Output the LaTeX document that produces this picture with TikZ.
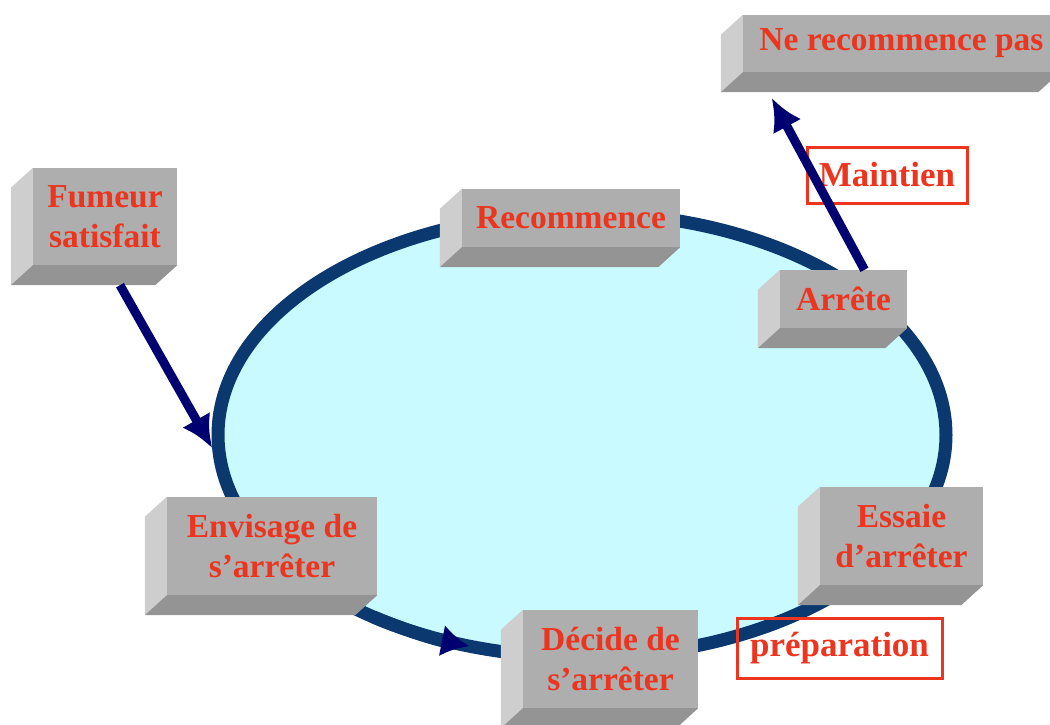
\documentclass[tikz,border=0pt]{standalone}
\usepackage{fontspec}
\setmainfont{Liberation Serif}
\usetikzlibrary{shapes.geometric,arrows.meta}

\definecolor{rouge}{RGB}{236,52,30}
\definecolor{face}{RGB}{174,174,174}
\definecolor{cote}{RGB}{206,206,206}
\definecolor{dessous}{RGB}{148,148,148}
\definecolor{anneau}{RGB}{12,56,112}
\definecolor{fond}{RGB}{200,250,255}
\definecolor{fleche}{RGB}{0,0,112}

\tikzset{
  bloc/.style={fill=face, text=rouge, align=center, inner sep=0pt,
    font=\bfseries\fontsize{33.5}{40}\selectfont},
  etiquette/.style={draw=rouge, line width=3pt, text=rouge, inner sep=0pt,
    font=\bfseries\fontsize{35}{40}\selectfont},
  fl/.style={draw=fleche, line width=9pt, -{Latex[length=32pt,width=32pt]}},
}

\begin{document}
\begin{tikzpicture}[x=1pt, y=-1pt]
    \useasboundingbox (0,0) rectangle (1050,724);
    % le cycle
    \node[ellipse, draw=anneau, fill=fond, line width=13pt, inner sep=0pt,
          minimum width=728pt, minimum height=444pt] (boucle) at (582,435) {};
    \draw[anneau, line width=13pt, -{Latex[length=28pt,width=32pt,color=fleche]}]
      (boucle.center) ++(125:364 and 222)
      arc[start angle=125, end angle=108, x radius=364, y radius=222];
    % les etapes
    \node[bloc, minimum width=144pt, minimum height=97pt] (fumeur) at (105,216.5) {Fumeur\\satisfait};
    \node[bloc, minimum width=218pt, minimum height=58pt] (recommence) at (571,218) {Recommence};
    \node[bloc, minimum width=317pt, minimum height=57pt] (nerecommence) at (901.5,43.5) {Ne recommence pas};
    \node[bloc, minimum width=127pt, minimum height=58pt] (arrete) at (843.5,299) {Arrête};
    \node[bloc, minimum width=210pt, minimum height=98pt] (envisage) at (272,546) {Envisage de\\s'arrêter};
    \node[bloc, minimum width=163pt, minimum height=98pt] (essaie) at (901.5,536) {Essaie\\d'arrêter};
    \node[bloc, minimum width=175pt, minimum height=98pt] (decide) at (610.5,659) {Décide de\\s'arrêter};
    \foreach \n in {fumeur,recommence,nerecommence,arrete,envisage,essaie,decide}{
      \fill[cote] (\n.north west) -- (\n.south west) -- ++(-22pt,-20pt)
        -- ([shift={(-22pt,-20pt)}]\n.north west) -- cycle;
      \fill[dessous] (\n.south west) -- (\n.south east) -- ++(-22pt,-20pt)
        -- ([shift={(-22pt,-20pt)}]\n.south west) -- cycle;
    }
    % les phases
    \node[etiquette, minimum width=160pt, minimum height=56pt] (maintien) at (887,175) {Maintien};
    \node[etiquette, minimum width=205pt, minimum height=60pt] (preparation) at (839.5,648) {préparation};
    % fleches
    \draw[fl] ([shift={(15pt,-20pt)}]fumeur.south) -- (boucle.182);
    \draw[fl] ([xshift=21pt]arrete.north) -- ([shift={(29pt,-26pt)}]nerecommence.south west);
\end{tikzpicture}
\end{document}
